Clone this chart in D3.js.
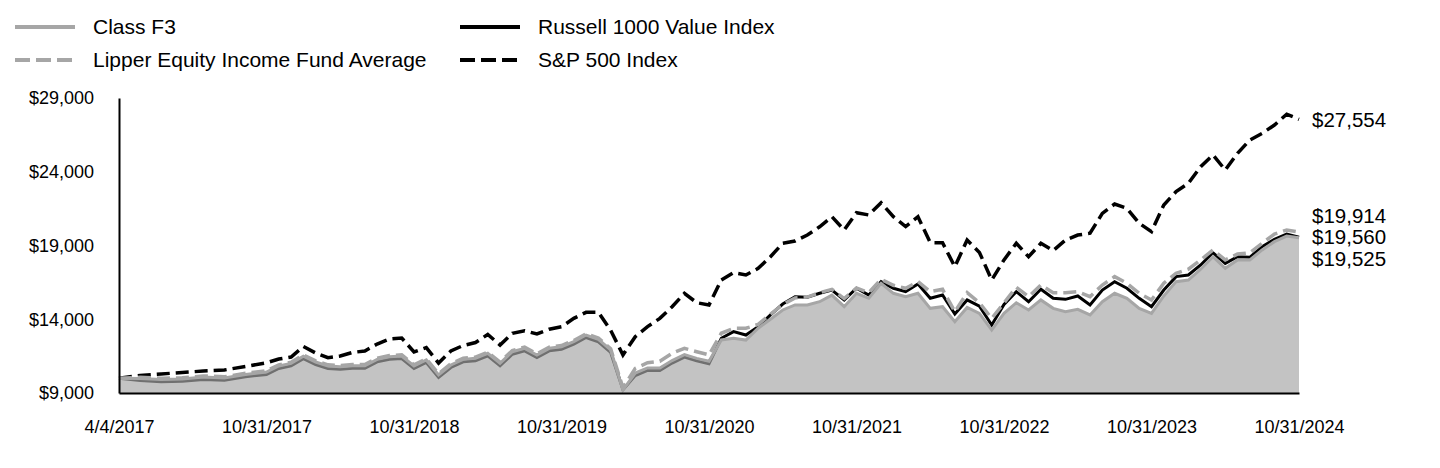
<!DOCTYPE html>
<html>
<head>
<meta charset="utf-8">
<script src="https://cdn.jsdelivr.net/npm/d3@7"></script>
<style>
  html, body { margin: 0; padding: 0; background: #fff; }
  svg { display: block; }
  text { font-family: "Liberation Sans", Arial, sans-serif; fill: #000; }
</style>
</head>
<body>
<svg id="chart" width="1440" height="468"></svg>
<script>
// ---------------- DATA ----------------
const tickLabels = ["4/4/2017","10/31/2017","10/31/2018","10/31/2019","10/31/2020","10/31/2021","10/31/2022","10/31/2023","10/31/2024"];
const tickIndex  = [0, 7, 19, 31, 43, 55, 67, 79, 91];
const yTicks = [9000, 14000, 19000, 24000, 29000];

const classF3 = [
 10000, 9990, 9920, 9950, 10080, 10020, 10260, 10420, 10830, 11010,
 11500, 11100, 10830, 10780, 10850, 10850, 11280, 11460, 11510, 10830,
 11240, 10220, 10900, 11280, 11350, 11690, 11010, 11800, 12030, 11580,
 12030, 12140, 12480, 12930, 12640, 11920, 9200, 10350, 10700, 10700,
 11200, 11600, 11350, 11150, 12600, 12710, 12590, 13390, 14000, 14630,
 14970, 14970, 15190, 15640, 14850, 15760, 15420, 16440, 15760, 15530,
 15760, 14740, 14850, 13830, 14800, 14400, 13270, 14400, 15120, 14630,
 15310, 14740, 14510, 14670, 14290, 15190, 15760, 15420, 14740, 14400,
 15580, 16550, 16660, 17390, 18240, 17450, 18020, 18020, 18700, 19260,
 19640, 19525
];

const lipper = [
 10000, 10060, 10000, 10030, 10160, 10100, 10340, 10500, 10910, 11090,
 11580, 11180, 10910, 10860, 10930, 10930, 11360, 11540, 11590, 10910,
 11320, 10300, 10980, 11360, 11430, 11770, 11090, 11880, 12110, 11660,
 12110, 12220, 12560, 13010, 12720, 12000, 9350, 10670, 11050, 11150,
 11700, 12030, 11800, 11580, 13050, 13390, 13390, 13650, 14350, 15000,
 15450, 15500, 15800, 16030, 15400, 16120, 15800, 16710, 16300, 16100,
 16550, 15870, 16030, 14510, 15800, 15120, 14060, 15100, 16170, 15530,
 16320, 15800, 15800, 15870, 15530, 16320, 16890, 16440, 15760, 15310,
 16440, 17120, 17390, 18020, 18700, 18020, 18420, 18510, 19150, 19780,
 20050, 19914
];

const russell = [
 10000, 9840, 9760, 9790, 9920, 9860, 10100, 10260, 10660, 10840,
 11330, 10930, 10660, 10610, 10680, 10680, 11110, 11290, 11340, 10660,
 11070, 10050, 10730, 11110, 11180, 11520, 10840, 11630, 11860, 11410,
 11860, 11970, 12310, 12760, 12470, 11750, 9220, 10180, 10530, 10530,
 11030, 11430, 11180, 10980, 12710, 13160, 12930, 13500, 14290, 15030,
 15530, 15490, 15760, 15980, 15310, 16100, 15640, 16550, 16100, 15870,
 16390, 15420, 15640, 14350, 15310, 14880, 13610, 15000, 15870, 15190,
 16030, 15420, 15350, 15580, 14970, 15980, 16550, 16100, 15420, 14850,
 15980, 16890, 17000, 17680, 18510, 17790, 18240, 18200, 18920, 19420,
 19780, 19560
];

const sp500 = [
 10000, 10190, 10290, 10390, 10490, 10560, 10800, 11050, 11300, 11440,
 12150, 11710, 11390, 11510, 11750, 11850, 12320, 12660, 12730, 11780,
 12080, 11030, 11850, 12220, 12420, 12970, 12250, 13050, 13220, 13000,
 13320, 13490, 14060, 14470, 14470, 13250, 11580, 12820, 13500, 14060,
 14850, 15760, 15120, 14970, 16660, 17160, 17000, 17450, 18240, 19150,
 19300, 19710, 20270, 20950, 20050, 21220, 21070, 21900, 20950, 20280,
 20950, 19190, 19190, 17560, 19370, 18530, 16660, 18020, 19150, 18240,
 19150, 18650, 19370, 19710, 19830, 21180, 21810, 21520, 20510, 19940,
 21750, 22650, 23220, 24340, 25140, 24120, 25250, 26150, 26600, 27170,
 27900, 27554
];

const seriesNames = ["Class F3", "Lipper Equity Income Fund Average", "Russell 1000 Value Index", "S&P 500 Index"];
const endValues = [19525, 19914, 19560, 27554];

// ---------------- LAYOUT ----------------
const svg = d3.select("#chart");
const plotLeft = 119, plotRight = 1299, plotTop = 98, plotBottom = 393;
const gray = "#a6a6a6";

const xTick = d3.scalePoint().domain(tickLabels).range([plotLeft, plotRight]);
const x = d3.scaleLinear().domain(tickIndex).range(tickLabels.map(t => xTick(t)));
const y = d3.scaleLinear().domain([9000, 29000]).range([plotBottom, plotTop]);

const line = d3.line().x((d, i) => x(i)).y(d => y(d));
const area = d3.area().x((d, i) => x(i)).y0(y(9000)).y1(d => y(d));

// Lines under the translucent fill
svg.append("path").datum(russell).attr("d", line)
  .attr("fill", "none").attr("stroke", "#000").attr("stroke-width", 3);
svg.append("path").datum(sp500).attr("d", line)
  .attr("fill", "none").attr("stroke", "#000").attr("stroke-width", 3.5)
  .attr("stroke-dasharray", "13,6");
svg.append("path").datum(lipper).attr("d", line)
  .attr("fill", "none").attr("stroke", gray).attr("stroke-width", 3.5)
  .attr("stroke-dasharray", "13,6");

// Class F3 area + line
svg.append("path").datum(classF3).attr("d", area)
  .attr("fill", gray).attr("fill-opacity", 0.675);
svg.append("path").datum(classF3).attr("d", line)
  .attr("fill", "none").attr("stroke", gray).attr("stroke-width", 3);

// Axes
const yAxis = d3.axisLeft(y).tickValues(yTicks)
  .tickFormat(d => "$" + d3.format(",")(d)).tickSize(0).tickSizeOuter(0).tickPadding(25);
const gy = svg.append("g").attr("transform", `translate(${plotLeft},0)`).call(yAxis);
gy.select(".domain").attr("stroke", "#000").attr("stroke-width", 2);
gy.selectAll("text").style("font-size", "18px").attr("font-family", null);

const xAxis = d3.axisBottom(xTick).tickSize(0).tickSizeOuter(0).tickPadding(27);
const gx = svg.append("g").attr("transform", `translate(0,${plotBottom})`).call(xAxis);
gx.select(".domain").attr("stroke", "#000").attr("stroke-width", 2);
gx.selectAll("text").style("font-size", "18px").attr("font-family", null);

// End labels with collision dodge (cluster centred on median)
const labelH = 21.5;
let labs = endValues.map(v => ({v, y0: y(v)})).sort((a, b) => a.y0 - b.y0);
let clusters = [];
labs.forEach(l => {
  const last = clusters[clusters.length - 1];
  if (last && l.y0 - last[last.length - 1].y0 < labelH) last.push(l); else clusters.push([l]);
});
clusters.forEach(c => {
  const ys = c.map(d => d.y0).sort((a, b) => a - b);
  const med = d3.median(ys);
  c.forEach((d, i) => d.y = med + (i - (c.length - 1) / 2) * labelH);
});
svg.append("g").selectAll("text").data(labs).join("text")
  .attr("x", 1312).attr("y", d => d.y).attr("dy", "0.35em")
  .style("font-size", "20.5px")
  .text(d => "$" + d3.format(",")(d.v));

// Legend
const legend = [
  {name: seriesNames[0], x: 15, y: 27, color: gray, dash: null},
  {name: seriesNames[1], x: 15, y: 60, color: gray, dash: "15,6"},
  {name: seriesNames[2], x: 460, y: 27, color: "#000", dash: null},
  {name: seriesNames[3], x: 460, y: 60, color: "#000", dash: "15,6"}
];
const lg = svg.append("g").selectAll("g").data(legend).join("g");
lg.append("line")
  .attr("x1", d => d.x).attr("x2", d => d.x + 60)
  .attr("y1", d => d.y).attr("y2", d => d.y)
  .attr("stroke", d => d.color).attr("stroke-width", 4)
  .attr("stroke-dasharray", d => d.dash);
lg.append("text")
  .attr("x", d => d.x + 78).attr("y", d => d.y).attr("dy", "0.35em")
  .style("font-size", "21px")
  .text(d => d.name);
</script>
</body>
</html>
